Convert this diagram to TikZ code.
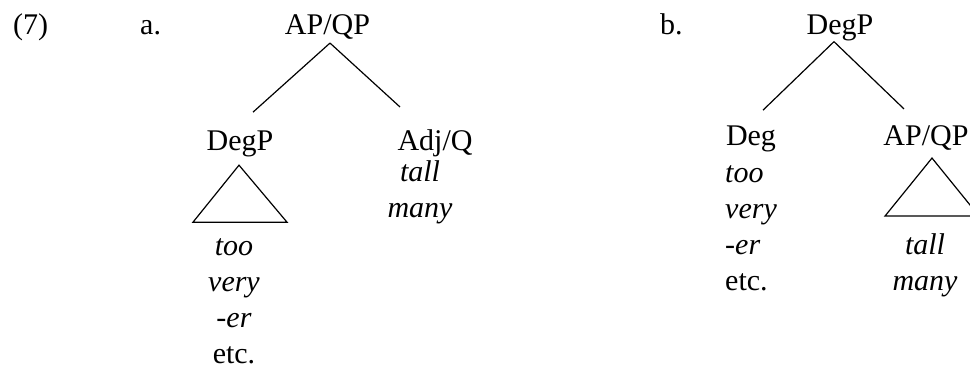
\documentclass[tikz,border=0pt]{standalone}
\usepackage{fontspec}
\setmainfont{Liberation Serif}

\begin{document}
\begin{tikzpicture}[x=1pt,y=-1pt,font=\fontsize{30}{36}\selectfont,
   every node/.style={inner sep=0pt,anchor=base},
   branch/.style={color=black,line width=1.2pt},
   words/.style={align=center}]
   \useasboundingbox (0,0) rectangle (970,369);
   \clip (0,0) rectangle (970,369);
   % (7a)
   \node (ex) at (13,35) [anchor=base west] {(7)};
   \node (la) at (140,35) [anchor=base west] {a.};
   \node (apqa) at (327.5,35) {AP/QP};
   \node (degpa) at (240,150) {DegP};
   \node (adjq) at (435,150) {Adj/Q};
   % multi-line nodes sit on their last line
   \node (tma) at (420,217) [words] {\textit{tall}\\\textit{many}};
   \node (tva) at (234,363) [words] {\textit{too}\\\textit{very}\\\textit{-er}\\etc.};
   \draw[branch] ([xshift=2.5pt,yshift=-3pt]apqa.south) -- ([xshift=13pt,yshift=18pt]degpa.north);
   \draw[branch] ([xshift=2.5pt,yshift=-3pt]apqa.south) -- ([xshift=-35pt,yshift=22pt]adjq.north);
   \draw[branch] ([xshift=-1pt,yshift=-8.5pt]degpa.south) -- ++(-46,57) -- ++(94,0) -- cycle;
   % (7b)
   \node (lb) at (660,35) [anchor=base west] {b.};
   \node (degpb) at (840,35) {DegP};
   \node (deg) at (751,145) {Deg};
   \node (tvb) at (725,290) [anchor=base west,align=left] {\textit{too}\\\textit{very}\\\textit{-er}\\etc.};
   \node (apqb) at (926,145) {AP/QP};
   \node (tmb) at (925,290) [words] {\textit{tall}\\\textit{many}};
   \draw[branch] ([xshift=-6pt]degpb.south) -- ([xshift=12pt,yshift=15pt]deg.north);
   \draw[branch] ([xshift=-6pt]degpb.south) -- ([xshift=-22pt,yshift=16pt]apqb.north);
   \draw[branch] ([xshift=6pt,yshift=-8pt]apqb.south) -- ++(-47,58) -- ++(94,0) -- cycle;
\end{tikzpicture}
\end{document}
